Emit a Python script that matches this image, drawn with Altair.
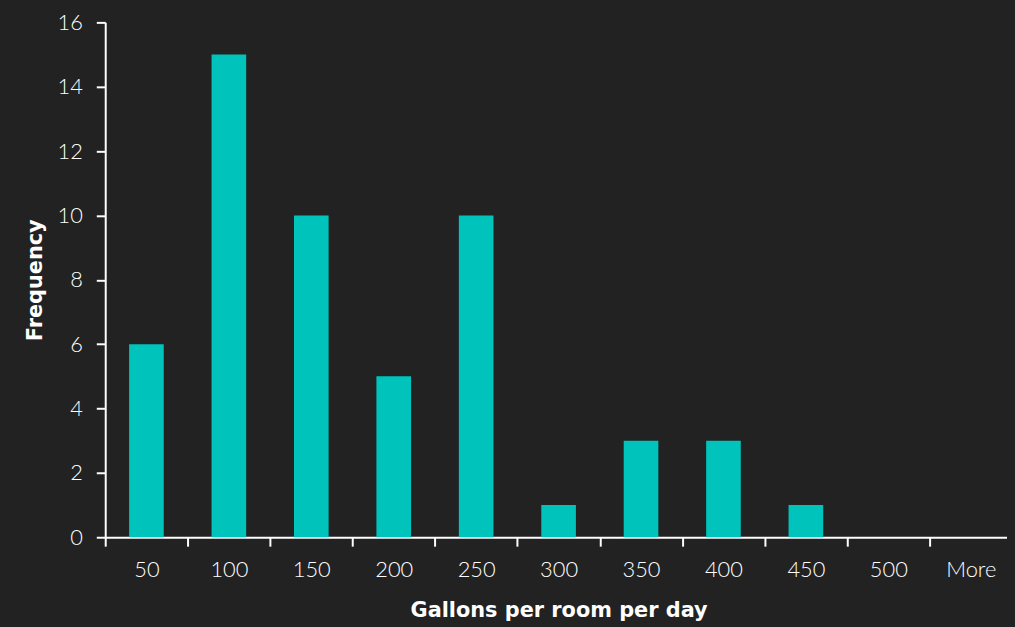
import altair as alt
import pandas as pd

categories = ["50", "100", "150", "200", "250", "300", "350", "400", "450", "500", "More"]
frequency = [6, 15, 10, 5, 10, 1, 3, 3, 1, 0, 0]

df = pd.DataFrame({"bin": categories, "freq": frequency})

LABEL_FONT = "Lato"
TITLE_FONT = "DejaVu Sans"

chart = alt.Chart(df).mark_bar(
    color="#00c4bc", width=alt.RelativeBandSize(0.42)
).encode(
    x=alt.X("bin:N", sort=categories, title="Gallons per room per day",
            scale=alt.Scale(paddingInner=0, paddingOuter=0, range=[0, 914]),
            axis=alt.Axis(labelAngle=0, tickBand="extent", tickSize=9, tickWidth=2,
                          domainWidth=2, labelPadding=14, titlePadding=19)),
    y=alt.Y("freq:Q", title="Frequency",
            scale=alt.Scale(domain=[0, 16], nice=False),
            axis=alt.Axis(values=list(range(0, 17, 2)), grid=False, tickSize=9,
                          tickWidth=2, domainWidth=2, labelPadding=14, titlePadding=12)),
).properties(
    width=909, height=519,
    autosize=alt.AutoSizeParams(type="none"),
    padding={"left": 98, "top": 12, "right": 0, "bottom": 88},
    background="#222222",
).configure_view(
    stroke=None
).configure_axis(
    domainColor="white", tickColor="white", labelColor="white", titleColor="white",
    labelFont=LABEL_FONT, titleFont=TITLE_FONT, labelFontSize=22, labelFontWeight=300,
    titleFontSize=21, titleFontWeight="bold",
)

chart.save("out.html", embed_options={"renderer": "svg", "actions": False})

# Make the page margin match the chart background
with open("out.html", encoding="utf-8") as f:
    html = f.read()
html = html.replace("<head>", "<head><style>html,body{background:#222222;}</style>", 1)
with open("out.html", "w", encoding="utf-8") as f:
    f.write(html)
